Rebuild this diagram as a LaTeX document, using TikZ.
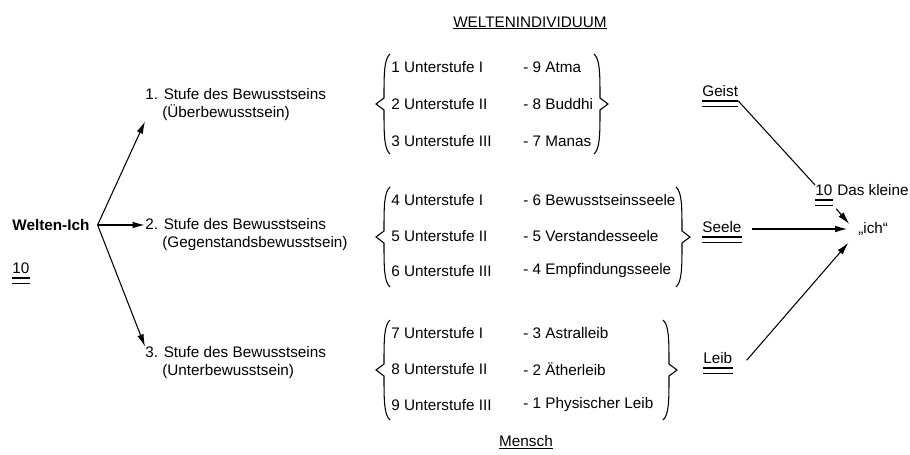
\documentclass[tikz,border=0pt]{standalone}
\usepackage{fontspec}
\setmainfont{Liberation Sans}
\usetikzlibrary{arrows.meta, positioning}

% braces: tip x, tip y (picture units)
\newcommand{\klammerL}[2]{%
  \draw[brc] (#1+14,#2-50) .. controls (#1+8,#2-45) and (#1+8,#2-30) .. (#1+8,#2-6)
    -- (#1,#2) -- (#1+8,#2+6) .. controls (#1+8,#2+30) and (#1+8,#2+45) .. (#1+14,#2+50);}
\newcommand{\klammerR}[2]{%
  \draw[brc] (#1-14,#2-50) .. controls (#1-8,#2-45) and (#1-8,#2-30) .. (#1-8,#2-6)
    -- (#1,#2) -- (#1-8,#2+6) .. controls (#1-8,#2+30) and (#1-8,#2+45) .. (#1-14,#2+50);}

\tikzset{
  rule/.style={draw, line width=0.8pt},
  dbl/.style={append after command={
      ([yshift=-2.3pt]\tikzlastnode.base west) edge[rule] ([yshift=-2.3pt]\tikzlastnode.base east)
      ([yshift=-5.3pt]\tikzlastnode.base west) edge[rule] ([yshift=-5.3pt]\tikzlastnode.base east)}},
  ul/.style={append after command={
      ([yshift=-1pt]\tikzlastnode.base west) edge[draw, line width=0.5pt] ([yshift=-1pt]\tikzlastnode.base east)}},
  brc/.style={line width=0.6pt},
  arr/.style={-{Latex[length=7pt,width=3.8pt]}, line width=0.6pt},
  stage/.style={anchor=west, align=left}
}

\begin{document}
\begin{tikzpicture}[x=0.02cm, y=-0.02cm, font=\fontsize{8.7}{10.2}\selectfont,
    every node/.style={inner sep=0pt}]
  \useasboundingbox (0,0) rectangle (910,455);

  % Titles
  \node[ul] (titel) at (530,22) {WELTENINDIVIDUUM};
  \node[ul] (mensch) at (526,441) {Mensch};

  % Left side
  \node[anchor=west] (welt) at (12,225) {\textbf{Welten-Ich}};
  \node[anchor=base west, dbl] (zehn1) at (12,274) {10};
  \coordinate[right=4.5pt of welt] (fork);

  % Stufen
  \node[stage] (s1) at (145,105) {1. Stufe des Bewusstseins\\\phantom{1.}\ (Überbewusstsein)};
  \node[stage] (s2) at (145,235) {2. Stufe des Bewusstseins\\\phantom{2.}\ (Gegenstandsbewusstsein)};
  \node[stage] (s3) at (145,363) {3. Stufe des Bewusstseins\\\phantom{3.}\ (Unterbewusstsein)};

  \draw[arr] (fork) -- (s1.south west);
  \draw[arr, line width=0.9pt] (fork) -- (fork -| s2.west);
  \draw[arr] (fork) -- (s3.north west);

  % Unterstufen
  \foreach \n/\r/\y/\txt in {1/I/67/9 Atma, 2/II/104/8 Buddhi, 3/III/141/7 Manas,
      4/I/200/6 Bewusstseinsseele, 5/II/236/5 Verstandesseele, 6/III/271/4 Empfindungsseele,
      7/I/333/3 Astralleib, 8/II/369/2 Ätherleib, 9/III/405/1 Physischer Leib} {
    \node[anchor=west] (u\n) at (391,\y) {\n\ Unterstufe \r};
    \node[anchor=west] (m\n) at (523,\y) {- \txt};
  }

  % Klammern
  \klammerL{376}{104}
  \klammerL{376}{237}
  \klammerL{376}{370}
  \klammerR{608}{104}
  \klammerR{690}{237}
  \klammerR{677}{370}

  % Geist, Seele, Leib
  \node[anchor=base west, dbl] (geist) at (702,97) {Geist};
  \node[anchor=base west, dbl] (seele) at (702,233) {Seele};
  \node[anchor=base west, dbl] (leib) at (703,364) {Leib};

  % Das kleine ich
  \node[anchor=base west, dbl] (zehn2) at (815,196) {10};
  \node[right=2.4pt of zehn2.base east, anchor=base west] (klein) {Das kleine};
  \node[anchor=west] (ich) at (858,229) {„ich“};

  \draw[line width=0.6pt] ([yshift=-2.3pt]geist.base east) -- (zehn2.north west);
  \draw[arr] ([shift={(2pt,-7pt)}]zehn2.south east) -- ([shift={(-5pt,-1pt)}]ich.north west);
  \draw[arr, line width=0.9pt, shorten <=6pt, shorten >=6pt] (seele.east |- ich) -- (ich.west);
  \draw[arr] ([xshift=8pt, yshift=-1pt]leib.east) -- ([shift={(-5.5pt,-4pt)}]ich.south west);
\end{tikzpicture}
\end{document}
